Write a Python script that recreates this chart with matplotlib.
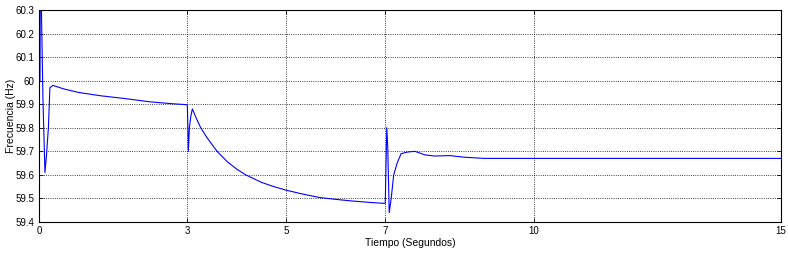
import numpy as np
import matplotlib.pyplot as plt

# frequency trace (time in s, frequency in Hz)
t = [0.0, 0.02, 0.025, 0.045, 0.08, 0.12, 0.15, 0.19, 0.22, 0.28, 0.5, 0.8, 1.24, 1.7, 2.25, 2.7, 2.99,
     3.0, 3.02, 3.04, 3.07, 3.1, 3.18, 3.27, 3.4, 3.6, 3.8, 4.0, 4.18, 4.5, 4.75, 5.0, 5.3, 5.67, 6.0, 6.34, 6.7, 6.98,
     7.0, 7.03, 7.05, 7.08, 7.12, 7.17, 7.24, 7.32, 7.45, 7.6, 7.8, 8.0, 8.3, 8.6, 9.0, 10.0, 12.0, 15.0]
f = [60.0, 60.0, 60.35, 60.35, 59.92, 59.61, 59.68, 59.80, 59.97, 59.98, 59.965, 59.95, 59.936, 59.925, 59.91, 59.902, 59.898,
     59.89, 59.70, 59.80, 59.85, 59.88, 59.84, 59.80, 59.757, 59.70, 59.657, 59.624, 59.60, 59.568, 59.55, 59.535, 59.52, 59.504, 59.496, 59.489, 59.483, 59.479,
     59.48, 59.80, 59.72, 59.44, 59.50, 59.60, 59.65, 59.69, 59.697, 59.70, 59.685, 59.68, 59.682, 59.675, 59.67, 59.67, 59.67, 59.67]

x_ticks = [0, 3, 5, 7, 10, 15]
y_ticks = [59.4, 59.5, 59.6, 59.7, 59.8, 59.9, 60.0, 60.1, 60.2, 60.3]
y_labels = ['59.4', '59.5', '59.6', '59.7', '59.8', '59.9', '60', '60.1', '60.2', '60.3']

plt.rcParams['font.family'] = ['Liberation Sans', 'DejaVu Sans']
fig = plt.figure(figsize=(7.88, 2.56), dpi=100)
ax = fig.add_axes([39 / 788, 34 / 256, 742 / 788, 212 / 256])
ax.plot(t, f, color='#0000ff', lw=0.8)
ax.set_xlim(0, 15)
ax.set_ylim(59.4, 60.3)
ax.set_xticks(x_ticks)
ax.set_yticks(y_ticks)
ax.set_yticklabels(y_labels)
ax.tick_params(direction='in', length=3, width=0.6, labelsize=7, top=True, right=True, pad=3)
ax.grid(True, linestyle=':', color='black', linewidth=0.6)
for s in ax.spines.values():
    s.set_linewidth(0.8)
ax.set_xlabel('Tiempo (Segundos)', fontsize=7.5, labelpad=1)
ax.set_ylabel('Frecuencia (Hz)', fontsize=7.5)
ax.yaxis.set_label_coords(-23 / 742, 0.5)
fig.savefig('out.png', dpi=100)
